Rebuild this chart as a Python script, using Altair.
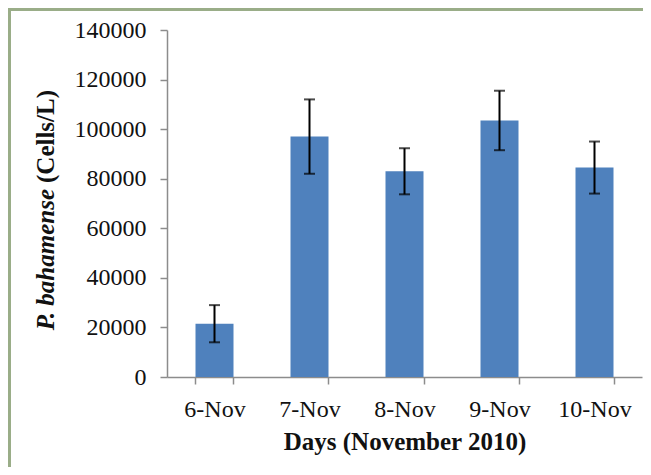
import altair as alt
import pandas as pd

days = ["6-Nov", "7-Nov", "8-Nov", "9-Nov", "10-Nov"]
cells = [21500, 97000, 83000, 103500, 84500]
errors = [7500, 15000, 9300, 12000, 10500]

df = pd.DataFrame({"day": days, "cells": cells, "err": errors})
df["lo"] = df["cells"] - df["err"]
df["hi"] = df["cells"] + df["err"]

FONT = "Liberation Serif"
AXC = "#8c8c8c"
TXT = "#111111"

x = alt.X("day:N", sort=days, scale=alt.Scale(paddingInner=0.6),
          axis=alt.Axis(title="Days (November 2010)", labelAngle=0, tickBand="extent",
                        labelFont=FONT, labelFontSize=24, labelColor=TXT,
                        titleFont=FONT, titleFontSize=25, titleFontWeight="bold",
                        titleColor=TXT, titlePadding=8, labelPadding=13,
                        domainColor=AXC, tickColor=AXC, tickSize=7, domainWidth=1.5, tickWidth=1.5))
y = alt.Y("cells:Q", scale=alt.Scale(domain=[0, 140000], nice=False),
          axis=alt.Axis(title=None, values=list(range(0, 140001, 20000)), format="d",
                        grid=False, labelFont=FONT, labelFontSize=24, labelColor=TXT,
                        labelPadding=14, domainColor=AXC, tickColor=AXC, tickSize=7,
                        domainWidth=1.5, tickWidth=1.5))

base = alt.Chart(df)
bars = base.mark_bar(color="#4F81BD").encode(x=x, y=y)
rules = base.mark_rule(color="black", strokeWidth=2).encode(x=alt.X("day:N", sort=days), y="lo:Q", y2="hi:Q")
caps_hi = base.mark_tick(color="black", thickness=2, size=11).encode(x=alt.X("day:N", sort=days), y="hi:Q")
caps_lo = base.mark_tick(color="black", thickness=2, size=11).encode(x=alt.X("day:N", sort=days), y="lo:Q")

one = alt.Chart(pd.DataFrame({"a": [0]}))
t1 = one.mark_text(text="P. bahamense", font=FONT, fontSize=25, fontWeight="bold", fontStyle="italic",
                   angle=270, align="right", baseline="middle", color=TXT).encode(
    x=alt.value(-121), y=alt.value(159))
t2 = one.mark_text(text="(Cells/L)", font=FONT, fontSize=25, fontWeight="bold",
                   angle=270, align="left", baseline="middle", color=TXT).encode(
    x=alt.value(-121), y=alt.value(153))
border_top = one.mark_rule(color="#9aad88", strokeWidth=3).encode(
    x=alt.value(-160), x2=alt.value(500), y=alt.value(-20.5))
border_left = one.mark_rule(color="#9aad88", strokeWidth=3).encode(
    x=alt.value(-157.5), y=alt.value(-22), y2=alt.value(500))

chart = alt.layer(bars, rules, caps_hi, caps_lo, t1, t2, border_top, border_left).properties(
    width=475, height=347,
    autosize=alt.AutoSizeParams(type="none"),
    padding={"left": 159, "top": 22, "right": 1, "bottom": 90},
    background="white",
).configure_view(stroke=None)

chart.save("out.html", embed_options={"renderer": "svg", "actions": False})
